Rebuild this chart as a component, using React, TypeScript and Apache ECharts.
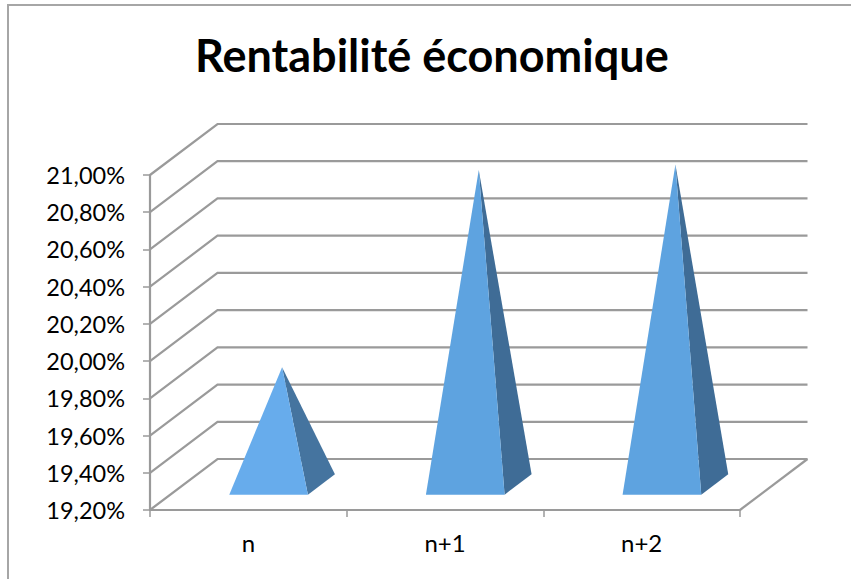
import React, { useEffect, useRef } from "react";
import * as echarts from "echarts";

const categories = ["n", "n+1", "n+2"];
const returnRates = [19.83, 20.89, 20.92];
const axisTicks = [19.2, 19.4, 19.6, 19.8, 20.0, 20.2, 20.4, 20.6, 20.8, 21.0];
const chartTitle = "Rentabilité économique";
const axisMin = 19.2;
const axisMax = 21.0;

// Oblique projection of the chart box: how far the back wall sits from the front plane.
const DEPTH_X = 67.5;
const DEPTH_Y = 51;
// Pyramid footprint as a share of one category band and of the box depth.
const BASE_SHARE = 0.4;

const GRID_COLOR = "#9a9a9a";
const FONT = "Lato, 'Noto Sans', sans-serif";
const FRONT_COLORS = ["#67ACEC", "#5EA3E0", "#5EA3E0"];
const SIDE_COLORS = ["#45749F", "#3F6C96", "#3F6C96"];

const formatPercent = (v: number) => v.toFixed(2).replace(".", ",") + "%";

export default function App() {
  const ref = useRef<HTMLDivElement>(null);

  useEffect(() => {
    if (!ref.current) return;
    const chart = echarts.init(ref.current, undefined, { renderer: "svg" });

    const lineStyle = { stroke: GRID_COLOR, lineWidth: 2.2, fill: "none" };

    // Side wall and back wall lines at every axis tick, plus the far edges of the floor.
    const renderWalls = (params: any, api: any) => {
      const sys = params.coordSys;
      const y = api.coord([0, api.value(1)])[1];
      const left = sys.x;
      const right = sys.x + sys.width;
      const children: any[] = [
        {
          type: "polyline",
          shape: {
            points: [
              [left, y],
              [left + DEPTH_X, y - DEPTH_Y],
              [right + DEPTH_X, y - DEPTH_Y],
            ],
          },
          style: lineStyle,
        },
      ];
      if (params.dataIndex === 0) {
        children.push({
          type: "line",
          shape: { x1: right, y1: y, x2: right + DEPTH_X, y2: y - DEPTH_Y },
          style: lineStyle,
        });
      }
      return { type: "group", children };
    };

    // Pyramid: the apex rises from the centre of the footprint, halfway into the box depth.
    const renderPyramid = (params: any, api: any) => {
      const index = api.value(0);
      const [cx, apexFrontY] = api.coord([index, api.value(1)]);
      const baseY = api.coord([index, axisMin])[1];
      const band = api.size([1, 0])[0];
      const halfW = (band * BASE_SHARE) / 2;
      const offX = (DEPTH_X * BASE_SHARE) / 2;
      const offY = (DEPTH_Y * BASE_SHARE) / 2;
      const centerX = cx + DEPTH_X / 2;
      const centerY = baseY - DEPTH_Y / 2;
      const apex = [centerX, apexFrontY - DEPTH_Y / 2];
      const frontLeft = [centerX - halfW - offX, centerY + offY];
      const frontRight = [centerX + halfW - offX, centerY + offY];
      const backRight = [centerX + halfW + offX, centerY - offY];
      return {
        type: "group",
        children: [
          {
            type: "polygon",
            shape: { points: [frontRight, backRight, apex] },
            style: { fill: SIDE_COLORS[index] },
          },
          {
            type: "polygon",
            shape: { points: [frontLeft, frontRight, apex] },
            style: { fill: FRONT_COLORS[index] },
          },
        ],
      };
    };

    chart.setOption({
      animation: false,
      backgroundColor: "#ffffff",
      title: {
        text: chartTitle,
        left: 190,
        top: 27,
        textStyle: {
          fontFamily: FONT,
          fontSize: 45,
          fontWeight: "bold",
          color: "#000000",
        },
      },
      grid: { left: 150, right: 111, top: 175, bottom: 69, containLabel: false },
      xAxis: {
        type: "category",
        data: categories,
        boundaryGap: true,
        axisLine: { show: true, lineStyle: { color: GRID_COLOR, width: 2.2 } },
        axisTick: { show: true, length: 7, lineStyle: { color: GRID_COLOR, width: 1.5 } },
        axisLabel: {
          margin: 20,
          fontFamily: FONT,
          fontSize: 24,
          color: "#000000",
        },
      },
      yAxis: {
        type: "value",
        min: axisMin,
        max: axisMax,
        interval: 0.2,
        splitLine: { show: false },
        axisLine: { show: true, lineStyle: { color: GRID_COLOR, width: 2.2 } },
        axisTick: { show: true, length: 7, lineStyle: { color: GRID_COLOR, width: 1.5 } },
        axisLabel: {
          margin: 25,
          fontFamily: FONT,
          fontSize: 23.5,
          color: "#000000",
          formatter: (v: number) => formatPercent(v),
        },
      },
      graphic: [
        {
          type: "polyline",
          silent: true,
          shape: { points: [[8, 579], [8, 5], [851, 5]] },
          style: { stroke: "#a6a6a6", lineWidth: 2, fill: "none" },
        },
      ],
      series: [
        {
          type: "custom",
          name: "walls",
          clip: false,
          silent: true,
          z: 1,
          renderItem: renderWalls,
          data: axisTicks.map((t) => [0, t]),
        },
        {
          type: "custom",
          name: "Rentabilité économique",
          clip: false,
          silent: true,
          z: 3,
          renderItem: renderPyramid,
          data: returnRates.map((v, i) => [i, v]),
        },
      ],
    });

    return () => chart.dispose();
  }, []);

  return (
    <div
      ref={ref}
      style={{ position: "fixed", left: 0, top: 0, width: 851, height: 579 }}
    />
  );
}
